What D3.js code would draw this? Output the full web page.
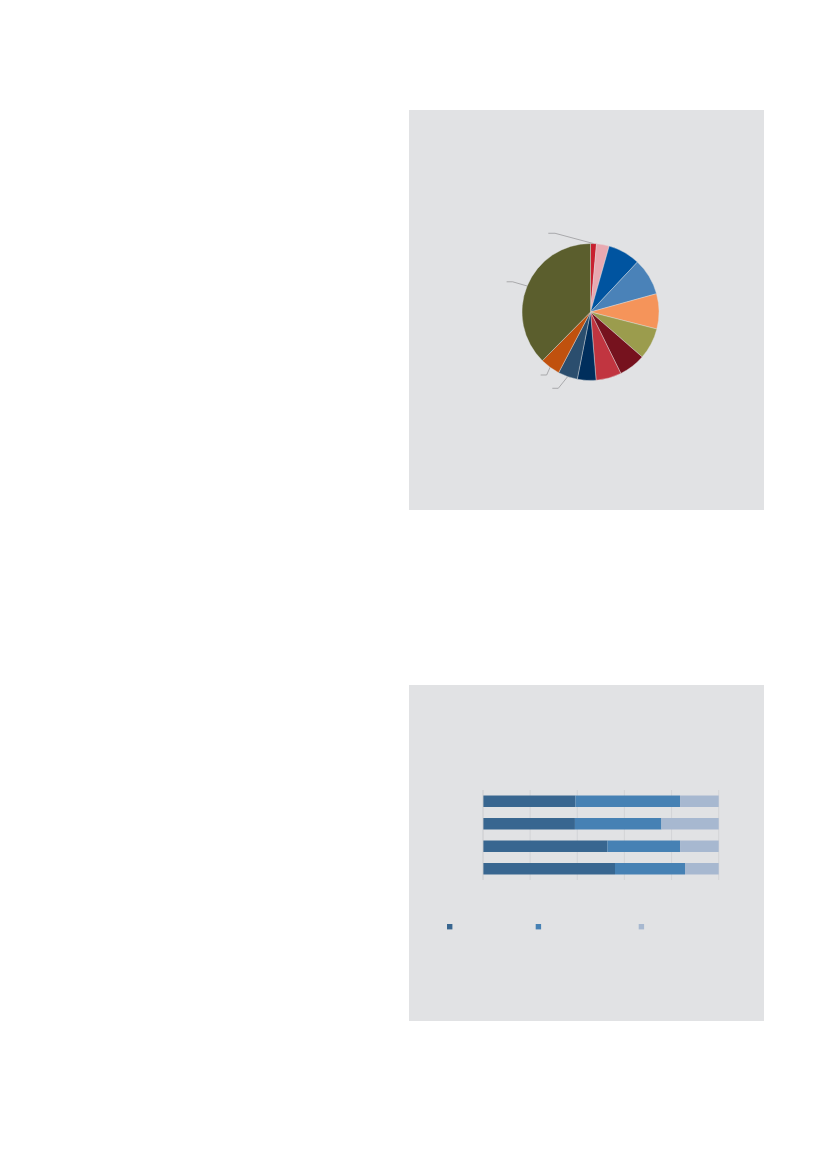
<!DOCTYPE html>
<html>
<head>
<meta charset="utf-8">
<script src="https://cdn.jsdelivr.net/npm/d3@7"></script>
<style>
  html, body { margin: 0; padding: 0; background: #ffffff; }
  svg { display: block; }
</style>
</head>
<body>
<svg id="page" width="827" height="1169"></svg>
<script>
// ---- Pie chart data (share, %), clockwise from 12 o'clock ----
const pieCategories = ["s1","s2","s3","s4","s5","s6","s7","s8","s9","s10","s11","s12"];
const pieValues = [1.4, 3.0, 7.6, 8.7, 8.3, 7.4, 6.3, 6.0, 4.4, 4.6, 4.7, 37.6];
const pieColors = ["#c8202f","#e8a9b1","#0054a0","#4a82b8","#f5945a","#9b9c4d",
                   "#76121e","#c13540","#002e5c","#2b4e6e","#c0510e","#5b5e2d"];
// slices that carry a leader line
const pieLeaderSlices = [0, 11, 10, 9];

// ---- Stacked bar data (%) ----
const barCategories = ["r1","r2","r3","r4"];
const seriesNames = ["a","b","c"];
const seriesA = [39.2, 39.0, 52.8, 56.0];
const seriesB = [44.4, 36.7, 30.8, 29.7];
const seriesC = [16.4, 24.3, 16.4, 14.3];
const seriesColors = ["#386690", "#4681b4", "#a7b8d0"];
const xTicks = [0, 20, 40, 60, 80, 100];

const svg = d3.select("#page");
const panelFill = "#e1e2e4";

// Panels
svg.append("rect").attr("x", 409).attr("y", 110).attr("width", 355).attr("height", 400).attr("fill", panelFill);
svg.append("rect").attr("x", 409).attr("y", 685).attr("width", 355).attr("height", 336).attr("fill", panelFill);

// ---------------- Pie ----------------
const cx = 590.5, cy = 312, R = 68.5;
const pieGen = d3.pie().sort(null).value(d => d)(pieValues);
const arcGen = d3.arc().innerRadius(0).outerRadius(R);
const gPie = svg.append("g").attr("transform", `translate(${cx},${cy})`);
gPie.selectAll("path").data(pieGen).join("path")
  .attr("d", arcGen)
  .attr("fill", (d, i) => pieColors[i])
  .attr("stroke", "#e1e2e4")
  .attr("stroke-width", 0.4);

// Leader lines: start at the slice's mid-angle on the rim, go to an elbow, then a short horizontal
const leaderGeom = [
  { dx: -38.5, dy: -10.3, tail: -6.7 },
  { dx: -14.5, dy: -4.2,  tail: -6 },
  { dx: -3.4,  dy: 7.7,   tail: -6 },
  { dx: -9.4,  dy: 11.7,  tail: -6 }
];
pieLeaderSlices.forEach((idx, k) => {
  const d = pieGen[idx];
  const a = (d.startAngle + d.endAngle) / 2;
  const p0 = [Math.sin(a) * R, -Math.cos(a) * R];
  const g = leaderGeom[k];
  const p1 = [p0[0] + g.dx, p0[1] + g.dy];
  const p2 = [p1[0] + g.tail, p1[1]];
  gPie.append("path")
    .attr("d", d3.line()([p0, p1, p2]))
    .attr("fill", "none")
    .attr("stroke", "#9a9b9d")
    .attr("stroke-width", 0.8);
});

// ---------------- Stacked bars ----------------
const x = d3.scaleLinear().domain([0, 100]).range([483, 718.7]);
const y = d3.scaleBand().domain(barCategories).range([790, 880]).paddingInner(0.49).paddingOuter(0.245);

const gGrid = svg.append("g");
gGrid.selectAll("line").data(xTicks).join("line")
  .attr("x1", d => x(d)).attr("x2", d => x(d))
  .attr("y1", 790).attr("y2", 880)
  .attr("stroke", "#cfd0d3").attr("stroke-width", 0.8);

const table = barCategories.map((c, i) => ({ cat: c, a: seriesA[i], b: seriesB[i], c: seriesC[i] }));
const stack = d3.stack().keys(["a", "b", "c"])(table);
const gBars = svg.append("g");
stack.forEach((layer, li) => {
  gBars.append("g").selectAll("rect").data(layer).join("rect")
    .attr("x", d => x(d[0]))
    .attr("y", d => y(d.data.cat))
    .attr("width", d => x(d[1]) - x(d[0]))
    .attr("height", y.bandwidth())
    .attr("fill", seriesColors[li]);
});
// axis baseline
svg.append("line").attr("x1", x(0)).attr("x2", x(0)).attr("y1", 790).attr("y2", 880)
  .attr("stroke", "#cfd0d3").attr("stroke-width", 0.8);

// Legend markers
const legendX = [447, 535.7, 638.7];
svg.append("g").selectAll("rect").data(seriesNames).join("rect")
  .attr("x", (d, i) => legendX[i])
  .attr("y", 924)
  .attr("width", 5.4).attr("height", 5.4)
  .attr("fill", (d, i) => seriesColors[i]);
</script>
</body>
</html>
